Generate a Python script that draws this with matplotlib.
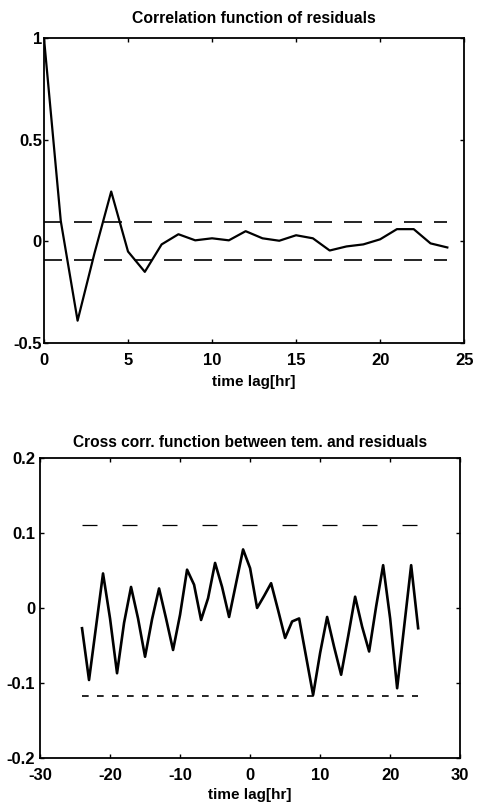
import numpy as np
import matplotlib
matplotlib.use("Agg")
import matplotlib.pyplot as plt

plt.rcParams['font.family'] = ['Liberation Sans', 'DejaVu Sans']
plt.rcParams['font.weight'] = 'bold'
plt.rcParams['axes.unicode_minus'] = False

# autocorrelation of residuals, lags 0..24
acf_lag = np.arange(0, 25)
acf_val = [1.0, 0.10, -0.39, -0.06, 0.245, -0.05, -0.15, -0.015, 0.035, 0.005,
           0.015, 0.005, 0.05, 0.015, 0.003, 0.03, 0.015, -0.045, -0.025, -0.015,
           0.01, 0.06, 0.06, -0.01, -0.03]
acf_upper = 0.095
acf_lower = -0.093

# cross correlation temperature / residuals, lags -24..24
ccf_lag = np.arange(-24, 25)
ccf_val = [-0.027, -0.096, -0.025, 0.046, -0.014, -0.087, -0.02, 0.028, -0.014, -0.065,
           -0.015, 0.026, -0.014, -0.056, -0.009, 0.051, 0.031, -0.016, 0.013, 0.060,
           0.028, -0.012, 0.033, 0.078, 0.053, 0.0, 0.016, 0.033, -0.003, -0.040,
           -0.018, -0.014, -0.065, -0.116, -0.06, -0.012, -0.052, -0.089, -0.038, 0.015,
           -0.025, -0.058, 0.002, 0.057, -0.014, -0.107, -0.025, 0.057, -0.027]
ccf_upper = 0.11
ccf_lower = -0.117

fig = plt.figure(figsize=(4.78, 8.09), dpi=100)

def style(ax):
    ax.tick_params(direction='in', length=3, width=1, top=True, right=True, labelsize=12)
    for s in ax.spines.values():
        s.set_linewidth(1.3)

# --- top: correlation function of residuals
ax1 = fig.add_axes([0.092, 0.576, 0.879, 0.377])
ax1.plot(acf_lag, acf_val, color='black', lw=1.6)
ax1.plot([acf_lag[0], acf_lag[-1]], [acf_upper, acf_upper], color='black', lw=1.2, ls=(0, (10.8, 7.2)))
ax1.plot([acf_lag[0], acf_lag[-1]], [acf_lower, acf_lower], color='black', lw=1.2, ls=(0, (10.8, 7.2)))
ax1.set_xlim(0, 25)
ax1.set_ylim(-0.5, 1)
ax1.set_xticks([0, 5, 10, 15, 20, 25])
ax1.set_yticks([-0.5, 0, 0.5, 1])
ax1.set_yticklabels(['-0.5', '0', '0.5', '1'])
style(ax1)
ax1.tick_params(axis='y', pad=1.5)
ax1.tick_params(axis='x', pad=7)
ax1.set_title('Correlation function of residuals', fontsize=11.3, fontweight='bold', pad=11)
ax1.set_xlabel('time lag[hr]', fontsize=11, fontweight='bold', labelpad=5)

# --- bottom: cross correlation
ax2 = fig.add_axes([0.0837, 0.063, 0.879, 0.371])
ax2.plot(ccf_lag, ccf_val, color='black', lw=1.9)
ax2.plot([ccf_lag[0], ccf_lag[-1]], [ccf_upper, ccf_upper], color='black', lw=0.9, ls=(0, (12, 20)))
ax2.plot([ccf_lag[0], ccf_lag[-1]], [ccf_lower, ccf_lower], color='black', lw=1.2, ls=(0, (4, 5)))
ax2.set_xlim(-30, 30)
ax2.set_ylim(-0.2, 0.2)
ax2.set_xticks([-30, -20, -10, 0, 10, 20, 30])
ax2.set_yticks([-0.2, -0.1, 0, 0.1, 0.2])
ax2.set_yticklabels(['-0.2', '-0.1', '0', '0.1', '0.2'])
style(ax2)
ax2.tick_params(axis='y', pad=3.5)
ax2.tick_params(axis='x', pad=7)
ax2.set_title('Cross corr. function between tem. and residuals', fontsize=11.2, fontweight='bold', pad=8)
ax2.set_xlabel('time lag[hr]', fontsize=11, fontweight='bold', labelpad=4)

fig.savefig('out.png', dpi=100)
